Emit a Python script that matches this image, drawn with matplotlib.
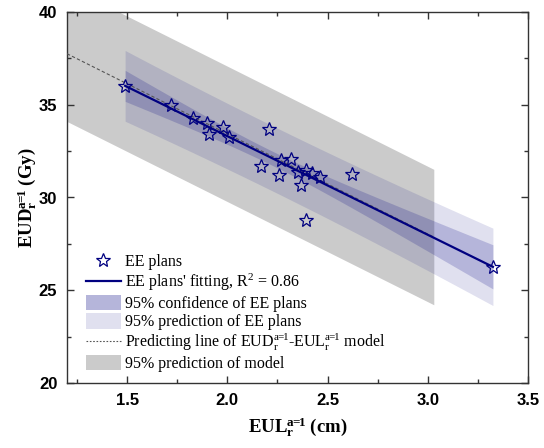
import numpy as np
import matplotlib
matplotlib.use("Agg")
import matplotlib.pyplot as plt
from matplotlib.lines import Line2D
from matplotlib.patches import Patch
from matplotlib.ticker import MultipleLocator, FormatStrFormatter

# EE plans: EUL (cm) vs EUD (Gy), a = 1
eul = [1.49, 1.72, 1.83, 1.90, 1.91, 1.98, 2.01, 2.21, 2.17, 2.27,
       2.32, 2.26, 2.35, 2.39, 2.42, 2.46, 2.365, 2.39, 2.62, 3.325]
eud = [36.0, 35.0, 34.3, 34.0, 33.45, 33.8, 33.25, 33.7, 31.7, 32.0,
       32.1, 31.2, 31.4, 31.5, 31.3, 31.1, 30.7, 28.8, 31.25, 26.25]
r2_reported = 0.86

# EUD-EUL model line and its 95% prediction half-width
model_intercept = 44.23
model_slope = -5.40
model_pi = 3.65
model_xrange = [1.2, 3.03]

T_975 = 2.101  # t(0.975, n-2) for n = 20

NAVY = "#000080"
GRAY = "#cbcbcb"
A1 = r"a\!\!=\!\!1"  # tight "a=1" superscript

plt.rcParams["mathtext.fontset"] = "custom"
plt.rcParams["mathtext.rm"] = "Liberation Serif"
plt.rcParams["mathtext.it"] = "Liberation Serif:italic"
plt.rcParams["mathtext.bf"] = "Liberation Serif:bold"

x = np.array(eul)
y = np.array(eud)
n = len(x)

# linear fit with confidence / prediction bands
slope, intercept = np.polyfit(x, y, 1)
resid = y - (intercept + slope * x)
s = np.sqrt(np.sum(resid ** 2) / (n - 2))
sxx = np.sum((x - x.mean()) ** 2)

xf = np.linspace(x.min(), x.max(), 200)
yf = intercept + slope * xf
se_mean = s * np.sqrt(1 / n + (xf - x.mean()) ** 2 / sxx)
se_pred = s * np.sqrt(1 + 1 / n + (xf - x.mean()) ** 2 / sxx)

xm = np.array(model_xrange)
ym = model_intercept + model_slope * xm

fig = plt.figure(figsize=(5.44, 4.48), dpi=100)
ax = fig.add_axes([67 / 544, 65 / 448, 461 / 544, 371 / 448])

ax.fill_between(xm, ym - model_pi, ym + model_pi, color=GRAY, lw=0, zorder=1)
ax.fill_between(xf, yf - T_975 * se_pred, yf + T_975 * se_pred,
                color=NAVY, alpha=0.12, lw=0, zorder=2)
ax.fill_between(xf, yf - T_975 * se_mean, yf + T_975 * se_mean,
                color=NAVY, alpha=0.19, lw=0, zorder=3)
ax.plot(xm, ym, color="#555555", lw=0.8, dashes=(3, 2), zorder=4)
ax.plot(xf, yf, color=NAVY, lw=1.6, zorder=5)
ax.plot(x, y, ls="none", marker="*", ms=10.5, mfc="none", mec=NAVY,
        mew=0.9, zorder=6)

ax.set_xlim(1.2, 3.5)
ax.set_ylim(20, 40)
ax.xaxis.set_major_locator(MultipleLocator(0.5))
ax.xaxis.set_minor_locator(MultipleLocator(0.25))
ax.yaxis.set_major_locator(MultipleLocator(5))
ax.yaxis.set_minor_locator(MultipleLocator(2.5))
ax.xaxis.set_major_formatter(FormatStrFormatter("%.1f"))
ax.tick_params(which="both", direction="in", top=True, right=True,
               width=1, color="#333333")
ax.tick_params(which="major", length=5, pad=7)
ax.tick_params(which="minor", length=3)
for lab in ax.get_xticklabels() + ax.get_yticklabels():
    lab.set_fontfamily("Liberation Sans")
    lab.set_fontweight("bold")
    lab.set_fontsize(12)
for sp in ax.spines.values():
    sp.set_linewidth(1)
    sp.set_color("#333333")

ax.set_xlabel(r"$\mathbf{EUL_r^{%s}}$ (cm)" % A1, family="Liberation Serif",
              fontweight="bold", fontsize=13.5, labelpad=6)
ax.set_ylabel(r"$\mathbf{EUD_r^{%s}}$ (Gy)" % A1, family="Liberation Serif",
              fontweight="bold", fontsize=13.5, labelpad=0)

handles = [
    Line2D([], [], ls="none", marker="*", ms=10.5, mfc="none", mec=NAVY, mew=0.9),
    Line2D([], [], color=NAVY, lw=1.6),
    Patch(facecolor=NAVY, alpha=0.29, lw=0),
    Patch(facecolor=NAVY, alpha=0.12, lw=0),
    Line2D([], [], color="#555555", lw=0.8, dashes=(1.5, 1.5)),
    Patch(facecolor=GRAY, lw=0),
]
labels = [
    "EE plans",
    "EE plans' fitting, R$^{2}$ = %.2f" % r2_reported,
    "95% confidence of EE plans",
    "95% prediction of EE plans",
    r"Predicting line of EUD$_\mathrm{r}^\mathrm{%s}$-EUL$_\mathrm{r}^\mathrm{%s}$ model" % (A1, A1),
    "95% prediction of model",
]
ax.legend(handles, labels, loc="lower left", bbox_to_anchor=(0.023, 0.008),
          frameon=False, borderpad=0, prop={"family": "Liberation Serif", "size": 11.5},
          handlelength=2.2, handleheight=1.1, handletextpad=0.25, labelspacing=0.1)

fig.savefig("out.png", dpi=100)
